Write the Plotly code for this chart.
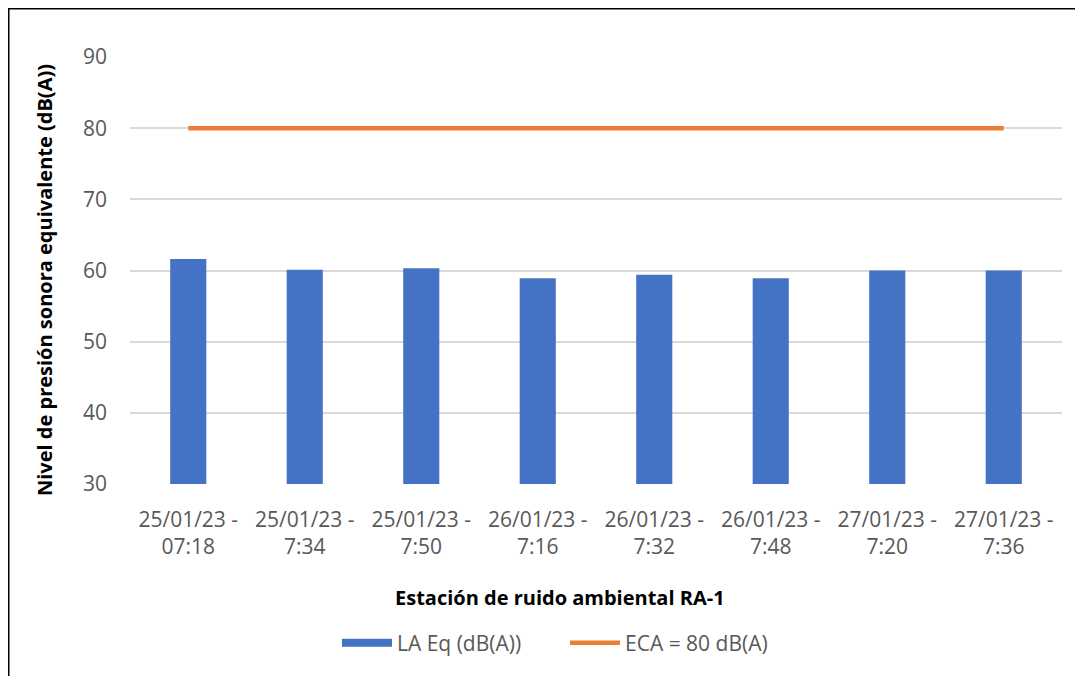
"""
Nivel de presión sonora - estación RA-1 (barras + límite ECA).
"""
import plotly.graph_objects as go

BLUE = "#4472c4"
ORANGE = "#ed7d31"
GRID = "#d9d9d9"
TICK_COLOR = "#595959"
FONT = "Open Sans"

# datos
categorias = [
    "25/01/23 -<br>07:18",
    "25/01/23 -<br>7:34",
    "25/01/23 -<br>7:50",
    "26/01/23 -<br>7:16",
    "26/01/23 -<br>7:32",
    "26/01/23 -<br>7:48",
    "27/01/23 -<br>7:20",
    "27/01/23 -<br>7:36",
]
laeq = [61.6, 60.1, 60.3, 58.9, 59.4, 58.9, 60.0, 60.0]
eca = [80] * len(categorias)
y_ticks = [30, 40, 50, 60, 70, 80, 90]

# the page puts the figure 8px in from the corner (body margin)
OFF = 8
W, H = 1083 - OFF, 676 - OFF
PLOT_X0, PLOT_X1 = 130, 1062   # page pixels
PLOT_Y0, PLOT_Y1 = 57, 484
M_L = PLOT_X0 - OFF
M_R = W - (PLOT_X1 - OFF)
M_T = PLOT_Y0 - OFF
M_B = H - (PLOT_Y1 - OFF)
plot_w = PLOT_X1 - PLOT_X0
plot_h = PLOT_Y1 - PLOT_Y0


def px_x(p):
    return (p - PLOT_X0) / plot_w


def px_y(p):
    return (PLOT_Y1 - p) / plot_h


fig = go.Figure()

fig.add_trace(go.Bar(
    x=categorias, y=laeq, name="LA Eq (dB(A))",
    marker=dict(color=BLUE, line=dict(width=0)),
    showlegend=False,
))
# legend-only entry so the bar key is drawn as a wide strip
fig.add_trace(go.Scatter(
    x=[None], y=[None], name="LA Eq (dB(A))", mode="lines",
    line=dict(color=BLUE, width=8),
))
fig.add_trace(go.Scatter(
    x=categorias, y=eca, name="ECA = 80 dB(A)", mode="lines",
    line=dict(color=ORANGE, width=4.5),
))

# titulos de ejes
fig.add_annotation(
    text="<b>Nivel de presión sonora equivalente (dB(A))</b>",
    xref="paper", yref="paper", x=px_x(44), y=px_y(280),
    xanchor="center", yanchor="middle",
    textangle=-90, showarrow=False,
    font=dict(family=FONT, size=20, color="#000000"),
)
fig.add_annotation(
    text="<b>Estación de ruido ambiental RA-1</b>",
    xref="paper", yref="paper", x=px_x(560), y=px_y(597),
    xanchor="center", yanchor="middle",
    showarrow=False,
    font=dict(family=FONT, size=20, color="#000000"),
)

# marco
fig.add_shape(
    type="rect", xref="paper", yref="paper",
    x0=px_x(OFF + 0.5), x1=px_x(1100), y0=px_y(700), y1=px_y(OFF + 0.5),
    line=dict(color="#000000", width=2), layer="above",
)

fig.update_layout(
    width=W, height=H,
    margin=dict(l=M_L, r=M_R, t=M_T, b=M_B),
    paper_bgcolor="white", plot_bgcolor="white",
    font=dict(family=FONT, size=21, color=TICK_COLOR),
    bargap=0.69,
    showlegend=True,
    legend=dict(
        orientation="h", xanchor="center", x=px_x(565),
        yanchor="middle", y=px_y(643),
        font=dict(family=FONT, size=21, color=TICK_COLOR),
        traceorder="normal",
        itemwidth=50,
        entrywidth=163,
    ),
)
fig.update_xaxes(
    showgrid=False, showline=False, ticks="",
    tickfont=dict(size=21, color=TICK_COLOR),
    ticklabelstandoff=21,
)
fig.update_yaxes(
    range=[30, 90], tickvals=y_ticks,
    showgrid=True, gridcolor=GRID, gridwidth=1.5,
    zeroline=False, showline=False, ticks="",
    tickfont=dict(size=21, color=TICK_COLOR),
    ticklabelstandoff=22,
)

fig.write_html("out.html")
